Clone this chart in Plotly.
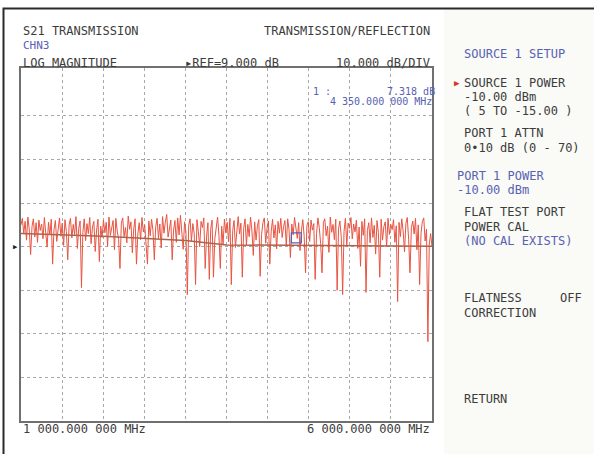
import numpy as np
import plotly.graph_objects as go

# ---- data ----
start_mhz = 1000.0
stop_mhz = 6000.0
trace_db = [
    -4, -2.5, -6, -3.2, -7.5, -2.2, -5, -10.8, -4.4, -2.6, -6.8, -3.5, -8, -2.9, -5.3, -3.8, -7.2, -2.3, -5.9, -9.1, -3.4, -6.3, -2.7, -13, -5.1, -3, -7.8, -4.2, -2.4, -6.6,
    -3.6, -8.7, -2.8, -5.5, -12, -4, -2.5, -7, -3.9, -6.2, -2.1, -9.4, -4.8, -3.1, -18.4, -5.7, -2.6, -7.6, -3.7, -6, -2.3, -8.3, -4.5, -3.2, -10.1, -5.2, -2.7, -12.4, -4.3, -6.9,
    -2.9, -5.8, -3.4, -8.9, -2.2, -6.4, -4.1, -3, -9.7, -2.5, -5.4, -7.3, -14, -3.6, -2.4, -6.7, -4.6, -8.1, -2, -5, -3.3, -10.4, -4.9, -2.6, -13, -6.1, -3.5, -7.4, -2.3, -5.6,
    -4, -8.5, -13, -3.1, -6.5, -2.7, -5.3, -12, -4.4, -2.5, -7.1, -3.8, -9.3, -2.1, -5.9, -3.4, -1.6, -6.8, -4.7, -2.9, -12, -5.2, -3, -8, -2.4, -6.3, -1.8, -4.9, -9.6, -3.3,
    -5.7, -20, -4.1, -2.6, -7.7, -3.7, -6, -17.7, -2.8, -5.5, -9, -3.2, -4.6, -2.4, -14, -6.6, -3.5, -16.5, -5, -2.9, -16, -7.2, -3.9, -2.2, -6.4, -14, -4.3, -8.4, -2.7, -5.8,
    -3.4, -7.9, -2.5, -17.7, -5.3, -3, -9.2, -4.5, -2.1, -6.1, -3.6, -16, -4.8, -2.6, -8.6, -3.9, -6.7, -2.2, -5.4, -11, -3.3, -7.5, -4.2, -2.8, -15.8, -6.2, -3.5, -2.4, -8.2, -4.7,
    -3.1, -13, -5.6, -2.7, -7, -4, -9.5, -3.2, -5.9, -2.5, -6.9, -4.4, -3, -8.8, -2.6, -5.1, -11.5, -3.8, -6.3, -2.3, -4.9, -7.1, -3.5, -9.9, -5.4, -2.8, -6.6, -15, -4.1, -3.3,
    -7.8, -2.9, -5.2, -3.7, -16.5, -6, -2.4, -4.6, -8.3, -15, -3.4, -2.6, -6.5, -4.3, -10.3, -2.2, -5.7, -3.9, -7.4, -2.7, -19, -4.9, -3.1, -6.8, -20, -5.5, -2.5, -8.7, -3.6, -4.8,
    -2.3, -7.2, -3.8, -5.6, -2.9, -9.4, -4.5, -13.5, -3.2, -6.4, -2.6, -19.5, -5.3, -3.5, -8.1, -2.4, -6.9, -4.1, -10.7, -3, -5.8, -16, -2.7, -7.5, -4.4, -3.3, -9, -2.5, -6.2, -3.9,
    -5.1, -2.8, -8, -4.2, -21.6, -3.4, -6.7, -2.6, -5.4, -10.2, -3.7, -2.3, -7.3, -15, -4.6, -3.1, -6.1, -2.5, -9.7, -4, -17.7, -5.9, -3.2, -2.4, -7.7, -5, -30.8, -8.5, -6, -9,
]
trend_mhz = [1000, 2000, 3000, 3500, 6000]
trend_db = [-6.0, -6.6, -7.6, -8.6, -8.9]
marker_mhz = [4350]
marker_db = [-7.0]
ref_db = -9.0
y_range = [-49, 32]
grid_y = [-39, -29, -19, -9, 1, 11, 21]

freq_mhz = np.linspace(start_mhz, stop_mhz, len(trace_db))

GRAY = "#3c3c3c"
BLUE = "rgb(88,98,178)"
FONT = "DejaVu Sans Mono"

fig = go.Figure()
fig.add_trace(go.Scatter(x=freq_mhz, y=trace_db, mode="lines",
                         line=dict(color="rgb(232,84,66)", width=1),
                         hoverinfo="skip", showlegend=False))
fig.add_trace(go.Scatter(x=trend_mhz, y=trend_db, mode="lines",
                         line=dict(color="rgb(176,98,72)", width=1.5),
                         hoverinfo="skip", showlegend=False))
fig.add_trace(go.Scatter(x=marker_mhz, y=marker_db, mode="markers",
                         marker=dict(symbol="square-open", size=10,
                                     color=BLUE, line=dict(width=1.2, color=BLUE)),
                         hoverinfo="skip", showlegend=False))

fig.update_layout(
    width=594, height=454,
    margin=dict(l=21, r=162, t=68, b=33),
    paper_bgcolor="white", plot_bgcolor="white",
    font=dict(family=FONT, size=12, color=GRAY),
    xaxis=dict(range=[start_mhz, stop_mhz], dtick=500, tick0=start_mhz,
               showgrid=True, gridcolor="#a8a8a8", gridwidth=1, griddash="dot",
               showticklabels=False, ticks="", zeroline=False,
               showline=True, mirror=True, linecolor="#707070", linewidth=1.5),
    yaxis=dict(range=y_range, tickvals=grid_y,
               showgrid=True, gridcolor="#a8a8a8", gridwidth=1, griddash="dot",
               showticklabels=False, ticks="", zeroline=False,
               showline=True, mirror=True, linecolor="#707070", linewidth=1.5),
)

# helpers: page pixel -> paper coords (plot area spans x 21..432, y 68..421)
def px_x(x):
    return (x - 21) / 411.0

def px_y(y):
    return (421 - y) / 353.0

# side panel background and outer frame
fig.add_shape(type="rect", xref="paper", yref="paper", x0=px_x(444), x1=px_x(594),
              y0=px_y(454), y1=px_y(9),
              fillcolor="#fafaf7", line=dict(width=0), layer="below")
fig.add_shape(type="rect", xref="paper", yref="paper", x0=px_x(3.5), x1=px_x(640),
              y0=px_y(500), y1=px_y(8.5),
              fillcolor="rgba(0,0,0,0)", line=dict(color="#2a2a2a", width=2), layer="above")

def px_text(txt, x, y, color=GRAY, size=12, anchor="left"):
    fig.add_annotation(text=txt, xref="paper", yref="paper",
                       x=px_x(x), y=px_y(y),
                       xanchor=anchor, yanchor="middle", showarrow=False,
                       font=dict(family=FONT, size=size, color=color))

# header texts
px_text("S21 TRANSMISSION", 21, 31)
px_text("CHN3", 21, 45, color=BLUE, size=11)
px_text("LOG MAGNITUDE", 21, 63)
px_text("▸REF=9.000 dB", 183, 63)
px_text("10.000 dB/DIV", 432, 63, anchor="right")
px_text("TRANSMISSION/REFLECTION", 432, 31, anchor="right")

# marker readout
px_text("1 :", 311, 91, color=BLUE, size=10)
px_text("7.318 dB", 437, 91, color=BLUE, size=10, anchor="right")
px_text("4 350.000 000 MHz", 434, 101, color=BLUE, size=10, anchor="right")

# footer
px_text("1 000.000 000 MHz", 21, 429)
px_text("6 000.000 000 MHz", 432, 429, anchor="right")

# reference arrow
fig.add_annotation(text="▶", x=start_mhz, y=ref_db, xref="x", yref="y",
                   xanchor="right", yanchor="middle", showarrow=False, xshift=-1,
                   font=dict(family=FONT, size=7, color="#222"))

# softkey panel
px_text("SOURCE 1 SETUP", 462, 54, color=BLUE)
px_text("▶", 452, 83, color="rgb(220,50,40)", size=9)
px_text("SOURCE 1 POWER", 462, 83)
px_text("-10.00 dBm", 462, 97)
px_text("( 5 TO -15.00 )", 462, 111)
px_text("PORT 1 ATTN", 462, 133)
px_text("0•10 dB (0 - 70)", 462, 148)
px_text("PORT 1 POWER", 455, 176, color=BLUE)
px_text("-10.00 dBm", 455, 190, color=BLUE)
px_text("FLAT TEST PORT", 462, 212)
px_text("POWER CAL", 462, 227)
px_text("(NO CAL EXISTS)", 462, 241, color=BLUE)
px_text("FLATNESS", 462, 298)
px_text("OFF", 584, 298, anchor="right")
px_text("CORRECTION", 462, 313)
px_text("RETURN", 462, 399)

fig.write_html("out.html", config={"displayModeBar": False},
               post_script="document.body.style.margin='0';document.body.style.overflow='hidden';")
